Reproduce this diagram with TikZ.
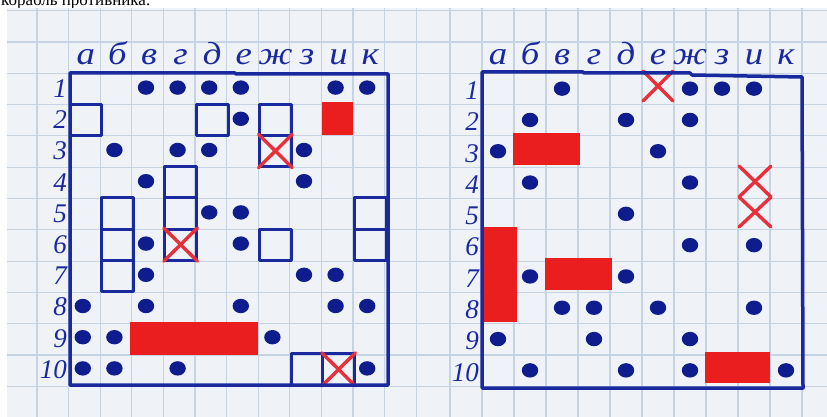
\documentclass[tikz,border=0pt]{standalone}
\usepackage{fontspec}
\setmainfont{Liberation Serif}
\definecolor{paper}{HTML}{EFF2F7}
\definecolor{gridc}{HTML}{C6D3E3}
\definecolor{ink}{HTML}{1A2A9E}
\definecolor{dotc}{HTML}{0E1C8E}
\definecolor{redc}{HTML}{EA1E1E}
\definecolor{crossc}{HTML}{E8303C}
\newcommand\handtxt[1]{\scalebox{1.15}[1]{#1}}
\tikzset{
  gridln/.style={draw=gridc, line width=1.1pt},
  border/.style={draw=ink, line width=3.5pt, line join=round, line cap=round},
  shipbox/.style={draw=ink, line width=3pt, line join=round},
  blob/.style={fill=dotc},
  redfill/.style={fill=redc},
  cross/.style={draw=crossc, line width=3.4pt, line cap=round},
  letter/.style={text=ink, font=\fontsize{32}{32}\selectfont\itshape, inner sep=0pt, anchor=base},
  num/.style={text=ink, font=\fontsize{27}{27}\selectfont\itshape, inner sep=0pt, anchor=east},
}
\begin{document}
\begin{tikzpicture}[x=1pt,y=-1pt]
\useasboundingbox (0,0) rectangle (827,417);
\clip (0,0) rectangle (827,417);
% title (cut off at top, as in the reference)
\node[anchor=base west, inner sep=0pt, font=\fontsize{17}{17}\selectfont] (title) at (1,6) {корабль противника.};
% paper
\fill[paper] (7,8) rectangle (827,417);
\begin{scope}
  \clip (7,8) rectangle (827,417);
  \foreach \k in {0,...,13} \draw[gridln] ({5.4+31.6*\k},8) -- ++(0,409);
  \foreach \k in {0,...,12} \draw[gridln] ({450+32*\k},8) -- ++(0,409);
  \foreach \k in {0,...,13} \draw[gridln] (7,{10.7+31.3*\k}) -- ++(820,0);
\end{scope}

% ================= LEFT GRID =================
\foreach \l [count=\i] in {а,б,в,г,д,е,ж,з,и,к}
  \node[letter] (la\i) at ({70+31.6*(\i-0.5)},65) {\handtxt{\l}};
\foreach \i in {1,...,10}
  \node[num] (ln\i) at (67,{73+31.2*(\i-0.5)}) {\i};
% red ships
\fill[redfill] (322,102) rectangle (353,135);
\fill[redfill] (130,322) rectangle (258,355);
% outlined ships
\foreach \c/\r in {1/2,5/2,7/2,7/3,4/4,4/5,4/6,2/5,2/6,2/7,10/5,10/6,7/6,8/10,9/10}
  \draw[shipbox] ({70+31.6*(\c-1)},{73+31.2*(\r-1)}) rectangle ++(31.6,31.2);
% crosses
\foreach \c/\r in {7/3,4/6,9/10} {
  \draw[cross] ({70+31.6*(\c-1)-1},{73+31.2*(\r-1)-1}) -- ++(33.6,33.2);
  \draw[cross] ({70+31.6*\c+1},{73+31.2*(\r-1)-1}) -- ++(-33.6,33.2);
}
% misses
\foreach \r/\cs in {1/{3,4,5,6,9,10},2/{6},3/{2,4,5,8},4/{3,8},5/{5,6},6/{3,6},7/{3,8,9},8/{1,3,6,9,10},9/{1,2,7},10/{1,2,4,10}} {
  \foreach \c in \cs
    \fill[blob] ({70+31.6*(\c-0.5)-3},{73+31.2*(\r-0.5)-1}) ellipse [x radius=8.2pt, y radius=7.2pt];
}
% border
\draw[border] (70,73) -- (235,73) -- (236,74) -- (388,74) -- (388,385) -- (70,385) -- cycle;

% ================= RIGHT GRID =================
\foreach \l [count=\i] in {а,б,в,г,д,е,ж,з,и,к}
  \node[letter] (ra\i) at ({482+32*(\i-0.5)},65) {\handtxt{\l}};
\foreach \i in {1,...,10}
  \node[num] (rn\i) at (479,{75+31.3*(\i-0.5)}) {\i};
% red ships
\fill[redfill] (513,133) rectangle (580,165);
\fill[redfill] (482,227) rectangle (517,322);
\fill[redfill] (545,258) rectangle (612,290);
\fill[redfill] (705,352) rectangle (770,383);
% crosses
\draw[cross] (643,71) -- (673,101);
\draw[cross] (673,71) -- (643,101);
\draw[cross] (739,166) -- (771,197);
\draw[cross] (771,166) -- (739,197);
\draw[cross] (739,197) -- (771,227);
\draw[cross] (771,197) -- (739,227);
% misses
\foreach \r/\cs in {1/{3,7,8,9},2/{2,5,7},3/{1,6},4/{2,7},5/{5},6/{7,9},7/{2,5},8/{3,4,6,9},9/{1,4,7},10/{2,5,7,10}} {
  \foreach \c in \cs
    \fill[blob] ({482+32*(\c-0.5)},{75+31.3*(\r-0.5)-2}) ellipse [x radius=8.2pt, y radius=7.2pt];
}
% border
\draw[border] (482,72) -- (583,72) -- (584,73) -- (690,73) -- (692,75) -- (802,77) -- (803,388) -- (482,388) -- cycle;
\end{tikzpicture}
\end{document}
